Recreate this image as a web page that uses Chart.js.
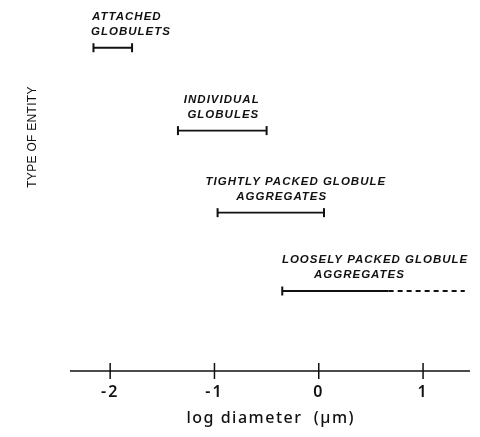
<!DOCTYPE html>
<html>
<head>
<meta charset="utf-8">
<script src="https://cdn.jsdelivr.net/npm/chart.js@4/dist/chart.umd.min.js"></script>
<style>
  html, body { margin: 0; padding: 0; background: #fff; }
  #wrap { width: 480px; height: 437px; position: relative; }
</style>
</head>
<body>
<div id="wrap"><canvas id="chart"></canvas></div>
<script>
// entity types, top to bottom
const entityLabels = [
  ['ATTACHED', 'GLOBULETS'],
  ['INDIVIDUAL', 'GLOBULES'],
  ['TIGHTLY PACKED GLOBULE', 'AGGREGATES'],
  ['LOOSELY PACKED GLOBULE', 'AGGREGATES']
];
const entityLevel = [3.94, 2.93, 1.93, 0.975];
// log diameter ranges (um)
const rangeStart = [-2.16, -1.35, -0.97, -0.35];
const rangeEnd = [-1.79, -0.50, 0.05, 0.67];
// uncertain extension of the loosely packed aggregates (dashed)
const dashedStart = [0.67];
const dashedEnd = [1.40];
const xTicks = [-2, -1, 0, 1];

// where the two lines of each label sit (centre, in log diameter units)
const labelCentres = [
  [-1.84, -1.80],
  [-0.93, -0.915],
  [-0.22, -0.355],
  [0.54, 0.39]
];

const datasets = entityLabels.map((lbl, i) => ({
  label: lbl.join(' '),
  data: [{ x: rangeStart[i], y: entityLevel[i] }, { x: rangeEnd[i], y: entityLevel[i] }],
  showLine: true,
  borderColor: '#111',
  borderWidth: 1.8,
  pointStyle: 'line',
  rotation: 90,
  pointRadius: i === 3 ? [4.5, 0] : 4.5,
  pointBorderWidth: 2,
  pointBorderColor: '#111',
  clip: false
}));
datasets.push({
  label: 'extension',
  data: [{ x: dashedStart[0], y: entityLevel[3] }, { x: dashedEnd[0], y: entityLevel[3] }],
  showLine: true,
  borderColor: '#111',
  borderWidth: 1.8,
  borderDash: [5, 4],
  pointRadius: 0,
  clip: false
});

function spacedText(ctx, text, x, y, font, spacing, align) {
  ctx.save();
  ctx.font = font;
  ctx.letterSpacing = spacing + 'px';
  ctx.textAlign = align;
  ctx.textBaseline = 'middle';
  ctx.fillStyle = '#111';
  ctx.fillText(text, x, y);
  ctx.restore();
}

const axisPlugin = {
  id: 'axisPlugin',
  afterDraw(chart) {
    const ctx = chart.ctx;
    const area = chart.chartArea;
    const xs = chart.scales.x;
    const ys = chart.scales.y;

    // x axis line with crossing ticks
    ctx.save();
    ctx.strokeStyle = '#111';
    ctx.lineWidth = 1.5;
    ctx.beginPath();
    ctx.moveTo(area.left, area.bottom);
    ctx.lineTo(area.right, area.bottom);
    xTicks.forEach(v => {
      const px = xs.getPixelForValue(v);
      ctx.moveTo(px, area.bottom - 8);
      ctx.lineTo(px, area.bottom + 8);
    });
    ctx.stroke();
    ctx.restore();

    xTicks.forEach(v => {
      const px = xs.getPixelForValue(v);
      const txt = v < 0 ? '-' + Math.abs(v) : String(v);
      spacedText(ctx, txt, px, area.bottom + 21, "600 16px 'Noto Sans'", 2, 'center');
    });
    spacedText(ctx, 'log diameter  (\u00b5m)', xs.getPixelForValue(-0.46), area.bottom + 47,
      "500 16px 'Noto Sans'", 1.5, 'center');

    // y axis title
    ctx.save();
    ctx.translate(area.left - 37, area.top + 127);
    ctx.rotate(-Math.PI / 2);
    spacedText(ctx, 'TYPE OF ENTITY', 0, 0, "12px 'Liberation Sans'", 0.3, 'center');
    ctx.restore();

    // entity labels
    entityLabels.forEach((lines, i) => {
      const py = ys.getPixelForValue(entityLevel[i]);
      lines.forEach((line, j) => {
        const px = xs.getPixelForValue(labelCentres[i][j]);
        spacedText(ctx, line, px, py - 31 + j * 15,
          "italic bold 11.5px 'Liberation Sans'", 1, 'center');
      });
    });
  }
};

new Chart(document.getElementById('chart'), {
  type: 'scatter',
  data: { datasets },
  options: {
    responsive: true,
    maintainAspectRatio: false,
    animation: false,
    layout: { padding: { left: 70, right: 10, top: 10, bottom: 66 } },
    plugins: {
      legend: { display: false },
      tooltip: { enabled: false }
    },
    scales: {
      x: { type: 'linear', min: -2.385, max: 1.45, display: false },
      y: { type: 'linear', min: 0, max: 4.4, display: false }
    }
  },
  plugins: [axisPlugin]
});
</script>
</body>
</html>
